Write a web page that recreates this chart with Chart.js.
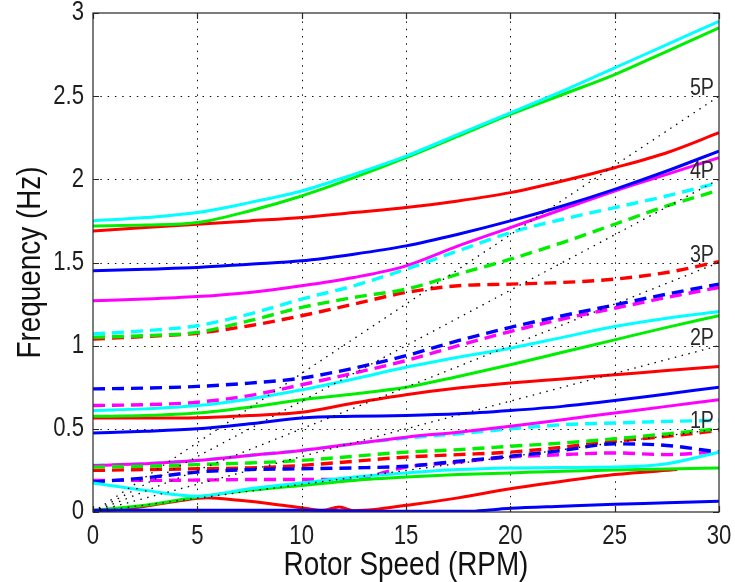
<!DOCTYPE html>
<html>
<head>
<meta charset="utf-8">
<script src="https://cdn.jsdelivr.net/npm/chart.js@4.4.1/dist/chart.umd.min.js"></script>
<style>
  html, body { margin: 0; padding: 0; background: #ffffff; }
  #wrap { width: 735px; height: 582px; }
</style>
</head>
<body>
<div id="wrap"><canvas id="campbell" width="735" height="582"></canvas></div>
<script>
// Rotor speed samples (RPM) shared by most modes
const rpm = [0, 2.5, 5, 7.5, 10, 12.5, 15, 17.5, 20, 22.5, 25, 27.5, 30];

// Axis ticks
const xTicks = [0, 5, 10, 15, 20, 25, 30];
const yTicks = [0, 0.5, 1, 1.5, 2, 2.5, 3];

// Per-revolution excitation lines (nP)
const harmonics = [1, 2, 3, 4, 5];

// Axis titles
const xTitle = 'Rotor Speed (RPM)';
const yTitle = 'Frequency (Hz)';

// Modal frequencies (Hz) against rotor speed
const cyanTop        = [1.75, 1.77, 1.80, 1.86, 1.93, 2.03, 2.14, 2.27, 2.40, 2.53, 2.67, 2.81, 2.95];
const greenTop       = [1.72, 1.725, 1.74, 1.81, 1.90, 2.01, 2.13, 2.26, 2.39, 2.51, 2.63, 2.77, 2.91];
const redTop         = [1.69, 1.71, 1.73, 1.75, 1.77, 1.80, 1.83, 1.87, 1.92, 1.99, 2.07, 2.16, 2.28];
const blueTop        = [1.45, 1.46, 1.47, 1.49, 1.51, 1.55, 1.60, 1.67, 1.75, 1.84, 1.94, 2.05, 2.17];
const magentaTop     = [1.27, 1.28, 1.295, 1.32, 1.36, 1.41, 1.48, 1.60, 1.71, 1.82, 1.93, 2.03, 2.13];
const cyanDashHigh   = [1.07, 1.09, 1.12, 1.19, 1.28, 1.36, 1.46, 1.57, 1.68, 1.76, 1.83, 1.90, 1.98];
const greenDashHigh  = [1.05, 1.06, 1.08, 1.15, 1.23, 1.29, 1.34, 1.43, 1.52, 1.62, 1.73, 1.84, 1.935];
const redDashHigh    = [1.04, 1.055, 1.075, 1.12, 1.18, 1.25, 1.32, 1.36, 1.37, 1.38, 1.40, 1.44, 1.505];
const blueDashMid    = [0.74, 0.745, 0.755, 0.775, 0.805, 0.865, 0.94, 1.03, 1.11, 1.18, 1.245, 1.31, 1.37];
const magentaDashMid = [0.64, 0.645, 0.66, 0.70, 0.765, 0.835, 0.91, 1.00, 1.085, 1.16, 1.225, 1.29, 1.35];
const cyanMid        = [0.61, 0.62, 0.64, 0.68, 0.735, 0.80, 0.87, 0.93, 0.985, 1.05, 1.115, 1.165, 1.205];
const greenMid       = [0.575, 0.58, 0.595, 0.63, 0.675, 0.71, 0.75, 0.815, 0.885, 0.96, 1.035, 1.11, 1.18];
const redMid         = [0.565, 0.565, 0.567, 0.58, 0.60, 0.655, 0.705, 0.745, 0.775, 0.80, 0.825, 0.85, 0.875];
const blueMid        = [0.475, 0.485, 0.50, 0.53, 0.565, 0.575, 0.58, 0.59, 0.61, 0.635, 0.67, 0.71, 0.75];
const magentaLow     = [0.28, 0.29, 0.31, 0.34, 0.37, 0.41, 0.45, 0.48, 0.515, 0.555, 0.595, 0.635, 0.675];
const cyanDashLow    = [0.28, 0.29, 0.31, 0.34, 0.37, 0.41, 0.445, 0.47, 0.50, 0.525, 0.535, 0.545, 0.55];
const greenDashLow   = [0.27, 0.275, 0.285, 0.295, 0.31, 0.335, 0.36, 0.375, 0.395, 0.415, 0.44, 0.47, 0.50];
const redDashLow     = [0.25, 0.255, 0.26, 0.265, 0.28, 0.305, 0.33, 0.345, 0.36, 0.39, 0.425, 0.455, 0.49];
const blueDashLow    = [0.18, 0.205, 0.24, 0.255, 0.26, 0.265, 0.275, 0.305, 0.335, 0.37, 0.41, 0.40, 0.36];
const magentaDashLow = [0.19, 0.19, 0.192, 0.195, 0.195, 0.20, 0.27, 0.30, 0.33, 0.345, 0.355, 0.345, 0.363];
const cyanLow        = [0.175, 0.13, 0.095, 0.14, 0.175, 0.21, 0.235, 0.255, 0.265, 0.268, 0.27, 0.29, 0.36];
const greenLow       = [0.01, 0.04, 0.09, 0.13, 0.16, 0.19, 0.21, 0.225, 0.235, 0.245, 0.252, 0.258, 0.265];

// Lowest modes, sampled more finely around their crossings
const redLowRpm  = [0, 1, 2.5, 4, 5.5, 7, 8.5, 10, 11, 11.8, 12.5, 13.5, 15, 17.5, 20, 22.5, 25, 28];
const redLow     = [0, 0.012, 0.035, 0.065, 0.085, 0.07, 0.05, 0.025, 0.01, 0.03, 0.008, 0.015, 0.04, 0.085, 0.14, 0.185, 0.225, 0.255];
const blueLowRpm = [0, 5, 10, 12, 15, 18, 19, 20, 22.5, 25, 27.5, 30];
const blueLow    = [0.01, 0.01, 0.01, 0.008, 0.004, 0.004, 0.012, 0.022, 0.035, 0.047, 0.055, 0.065];

const COLORS = { r: '#ff0000', g: '#00ee00', b: '#0000ff', c: '#00ffff', m: '#ff00ff' };
const FONT = "'Liberation Sans', Arial, sans-serif";
const NARROW = 0.82; // horizontal squeeze giving a condensed face

function pts(xs, ys) { return xs.map((x, i) => ({ x: x, y: ys[i] })); }

function mode(xs, ys, color, dashed) {
  return {
    data: pts(xs, ys),
    borderColor: color,
    borderWidth: dashed ? 3.4 : 3,
    borderDash: dashed ? [12, 7] : [],
    pointRadius: 0,
    cubicInterpolationMode: 'monotone',
    fill: false
  };
}

// Drawing order: first entry is painted first (lowest)
const layers = [
  mode(rpm, cyanDashLow, COLORS.c, true),
  mode(rpm, magentaTop, COLORS.m, false),
  mode(rpm, magentaDashMid, COLORS.m, true),
  mode(rpm, magentaLow, COLORS.m, false),
  mode(rpm, magentaDashLow, COLORS.m, true),
  mode(rpm, redTop, COLORS.r, false),
  mode(rpm, redDashHigh, COLORS.r, true),
  mode(rpm, redMid, COLORS.r, false),
  mode(rpm, redDashLow, COLORS.r, true),
  mode(redLowRpm, redLow, COLORS.r, false),
  mode(rpm, greenTop, COLORS.g, false),
  mode(rpm, greenDashHigh, COLORS.g, true),
  mode(rpm, greenMid, COLORS.g, false),
  mode(rpm, greenDashLow, COLORS.g, true),
  mode(rpm, greenLow, COLORS.g, false),
  mode(rpm, blueTop, COLORS.b, false),
  mode(rpm, blueDashMid, COLORS.b, true),
  mode(rpm, blueMid, COLORS.b, false),
  mode(rpm, blueDashLow, COLORS.b, true),
  mode(blueLowRpm, blueLow, COLORS.b, false),
  mode(rpm, cyanTop, COLORS.c, false),
  mode(rpm, cyanDashHigh, COLORS.c, true),
  mode(rpm, cyanMid, COLORS.c, false),
  mode(rpm, cyanLow, COLORS.c, false)
];

// nP excitation lines: frequency = n * rpm / 60
harmonics.forEach(n => {
  layers.push({
    data: [{ x: 0, y: 0 }, { x: 30, y: n * 30 / 60 }],
    borderColor: '#000000',
    borderWidth: 1.3,
    borderDash: [1.5, 5.5],
    pointRadius: 0,
    fill: false
  });
});

// Chart.js paints lower `order` on top, so reverse the list index
layers.forEach((ds, i) => { ds.order = layers.length - i; });

function condensedText(ctx, text, x, y, size, align, baseline, rotated) {
  ctx.save();
  ctx.translate(x, y);
  if (rotated) ctx.rotate(-Math.PI / 2);
  ctx.scale(NARROW, 1);
  ctx.font = size + 'px ' + FONT;
  ctx.textAlign = align;
  ctx.textBaseline = baseline;
  ctx.fillText(text, 0, 0);
  ctx.restore();
}

const axisFrame = {
  id: 'axisFrame',
  beforeDatasetsDraw(chart) {
    const { ctx, chartArea: a, scales: { x, y } } = chart;
    ctx.save();
    ctx.strokeStyle = '#111111';
    ctx.lineWidth = 1;
    ctx.setLineDash([1.5, 5.8]);
    xTicks.slice(1, -1).forEach(v => {
      const px = Math.round(x.getPixelForValue(v)) + 0.5;
      ctx.beginPath(); ctx.moveTo(px, a.bottom); ctx.lineTo(px, a.top); ctx.stroke();
    });
    yTicks.slice(1, -1).forEach(v => {
      const py = Math.round(y.getPixelForValue(v)) + 0.5;
      ctx.beginPath(); ctx.moveTo(a.left, py); ctx.lineTo(a.right, py); ctx.stroke();
    });
    ctx.restore();
  },
  afterDatasetsDraw(chart) {
    const { ctx, chartArea: a, scales: { x, y } } = chart;
    ctx.save();
    ctx.strokeStyle = '#262626';
    ctx.lineWidth = 1.2;
    ctx.setLineDash([]);
    ctx.strokeRect(a.left, a.top, a.right - a.left, a.bottom - a.top);
    const tl = 6;
    ctx.beginPath();
    xTicks.forEach(v => {
      const px = Math.round(x.getPixelForValue(v)) + 0.5;
      ctx.moveTo(px, a.bottom); ctx.lineTo(px, a.bottom - tl);
      ctx.moveTo(px, a.top); ctx.lineTo(px, a.top + tl);
    });
    yTicks.forEach(v => {
      const py = Math.round(y.getPixelForValue(v)) + 0.5;
      ctx.moveTo(a.left, py); ctx.lineTo(a.left + tl, py);
      ctx.moveTo(a.right, py); ctx.lineTo(a.right - tl, py);
    });
    ctx.stroke();

    // Tick labels
    ctx.fillStyle = '#1e1e1e';
    xTicks.forEach(v => condensedText(ctx, String(v), x.getPixelForValue(v), a.bottom + 25, 27, 'center', 'middle', false));
    yTicks.forEach(v => condensedText(ctx, String(v), a.left - 9, y.getPixelForValue(v), 27, 'right', 'middle', false));

    // Axis titles
    ctx.fillStyle = '#111111';
    condensedText(ctx, xTitle, (a.left + a.right) / 2, 566, 34, 'center', 'middle', false);
    condensedText(ctx, yTitle, 31, (a.top + a.bottom) / 2, 34, 'center', 'middle', true);

    // nP labels at the right-hand end of each excitation line
    ctx.fillStyle = '#2a2a2a';
    harmonics.forEach(n => {
      condensedText(ctx, n + 'P', x.getPixelForValue(30) - 5, y.getPixelForValue(n * 30 / 60) - 1, 24, 'right', 'alphabetic', false);
    });
    ctx.restore();
  }
};

new Chart(document.getElementById('campbell'), {
  type: 'line',
  data: { datasets: layers },
  options: {
    responsive: false,
    animation: false,
    events: [],
    layout: { padding: { top: 13, right: 16, left: 0, bottom: 0 } },
    plugins: { legend: { display: false }, tooltip: { enabled: false } },
    scales: {
      x: {
        type: 'linear',
        min: 0,
        max: 30,
        afterBuildTicks: s => { s.ticks = xTicks.map(v => ({ value: v })); },
        afterFit: s => { s.height = 70; },
        grid: { display: false, drawTicks: false },
        border: { display: false },
        ticks: { display: false },
        title: { display: false }
      },
      y: {
        type: 'linear',
        min: 0,
        max: 3,
        afterBuildTicks: s => { s.ticks = yTicks.map(v => ({ value: v })); },
        afterFit: s => { s.width = 93; },
        grid: { display: false, drawTicks: false },
        border: { display: false },
        ticks: { display: false },
        title: { display: false }
      }
    }
  },
  plugins: [axisFrame]
});
</script>
</body>
</html>
